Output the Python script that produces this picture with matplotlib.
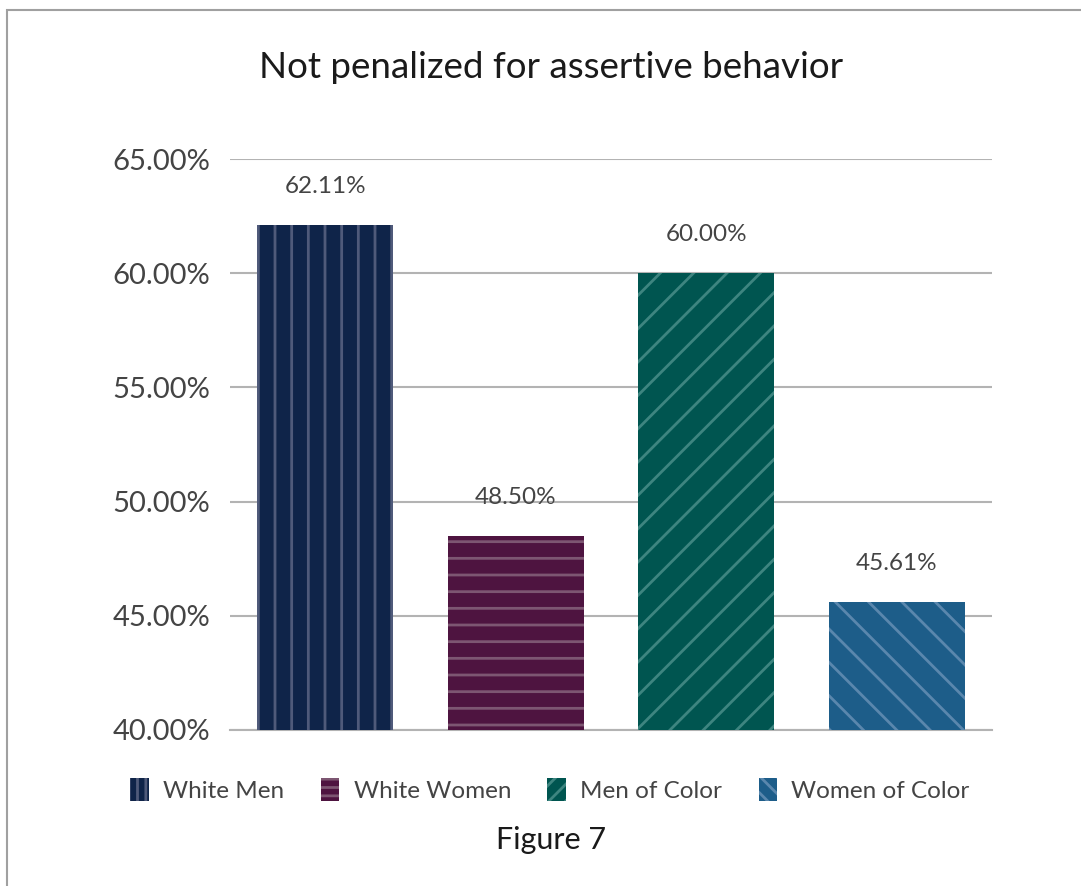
import matplotlib.pyplot as plt
from matplotlib.patches import Rectangle, Patch

plt.rcParams['font.family'] = ['Lato', 'DejaVu Sans']
plt.rcParams['hatch.linewidth'] = 2.0

groups = ["White Men", "White Women", "Men of Color", "Women of Color"]
values = [62.11, 48.50, 60.00, 45.61]
labels = ["62.11%", "48.50%", "60.00%", "45.61%"]
yticks = [40, 45, 50, 55, 60, 65]

FACE = ["#0f2449", "#4e1440", "#005550", "#1d5d89"]
HATCH_COL = ["#4f5a7a", "#7d5672", "#3e8580", "#5a87ad"]
HATCHES = ["|", "-", "/", "\\"]
TXT = "#444444"

fig = plt.figure(figsize=(10.81, 8.86), dpi=100)
ax = fig.add_axes([230 / 1081, 1 - 730 / 886, 762 / 1081, 571 / 886])

# outer frame of the chart (cropped on the right and bottom)
fig.patches.append(Rectangle((7 / 1081, -0.1), 1.2, 1 - 10 / 886 + 0.1,
                             transform=fig.transFigure, fill=False,
                             edgecolor="#a0a0a0", lw=1.5))

x = range(len(groups))
bars = ax.bar(x, [v - 40 for v in values], bottom=40, width=0.714,
              color=FACE, edgecolor=HATCH_COL, linewidth=0, zorder=3)
for b, h in zip(bars, HATCHES):
    b.set_hatch(h)

for xi, v, lab in zip(x, values, labels):
    ax.annotate(lab, (xi, v), xytext=(0, 20), textcoords="offset points",
                ha="center", va="bottom", fontsize=17.5, color=TXT)

ax.set_xlim(-0.5, 3.5)
ax.set_ylim(40, 65)
ax.set_yticks(yticks)
ax.set_yticklabels([f"{t:.2f}%" for t in yticks], fontsize=21, color=TXT)
ax.set_xticks([])
ax.grid(axis="y", color="#b3b3b3", lw=1.5, zorder=0)
ax.tick_params(axis="y", length=0, pad=14)
for s in ["top", "right", "left"]:
    ax.spines[s].set_visible(False)
ax.spines["bottom"].set_color("#b3b3b3")
ax.spines["bottom"].set_linewidth(1.5)

fig.text(551 / 1081, 1 - 68 / 886, "Not penalized for assertive behavior",
         ha="center", va="center", fontsize=26.5, color="#1a1a1a")

# legend swatches use a denser hatch, like the small swatches in the original
handles = [Patch(facecolor=f, edgecolor=hc, hatch=h * 2, linewidth=0)
           for f, hc, h in zip(FACE, HATCH_COL, HATCHES)]
fig.legend(handles, groups, loc="center", bbox_to_anchor=(550 / 1081, 1 - 790 / 886),
           ncol=4, frameon=False, handlelength=0.75,
           handleheight=1.1, handletextpad=0.6, columnspacing=1.5,
           labelcolor=TXT, prop={"size": 17.5})

fig.text(551 / 1081, 1 - 840 / 886, "Figure 7", ha="center", va="center",
         fontsize=22, color="#1a1a1a")

fig.savefig("out.png", dpi=100)
